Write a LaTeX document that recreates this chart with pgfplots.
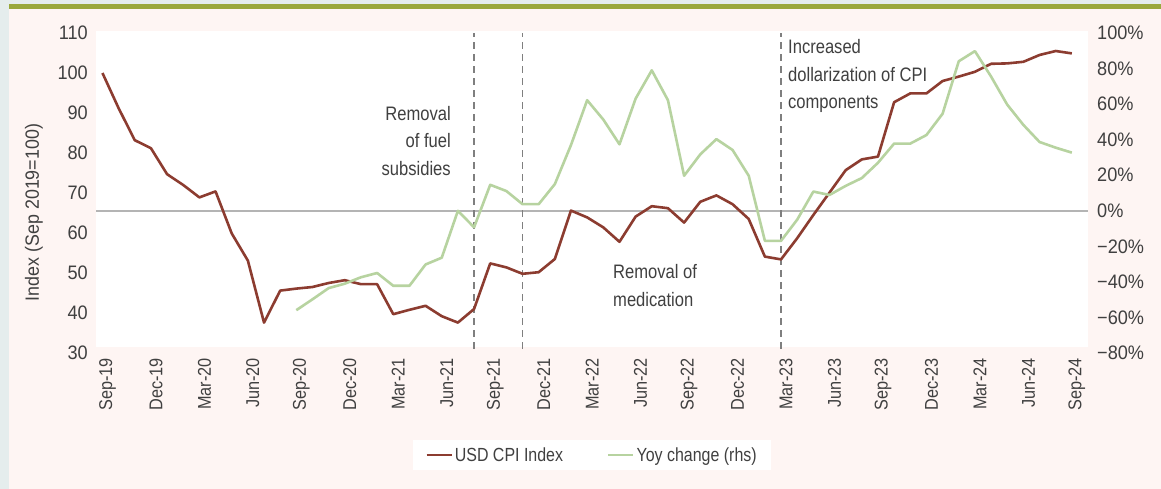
\documentclass[border=0pt]{standalone}
\usepackage{pgfplots}
\pgfplotsset{compat=1.18}
\usepackage{fontspec}
\setmainfont{Liberation Sans}
\newfontfamily\annfont[FakeStretch=0.85]{Liberation Sans}
\newfontfamily\tickfont[FakeStretch=0.93]{Liberation Sans}
\newfontfamily\xfont[FakeStretch=0.88]{Liberation Sans}
\newfontfamily\legfont[FakeStretch=0.84]{Liberation Sans}
\definecolor{txt}{HTML}{404040}
\definecolor{cpi}{HTML}{8C3C30}
\definecolor{yoy}{HTML}{B7D3A0}
\definecolor{zeroline}{HTML}{B4B4B4}
\definecolor{dashc}{HTML}{7F7F7F}
\definecolor{panelbg}{HTML}{FEF5F3}
\definecolor{outerbg}{HTML}{E5EDED}
\definecolor{topbar}{HTML}{9AA83C}

\pgfplotstableread{
i v
0 100
1 91.2
2 83.2
3 81.2
4 74.7
5 72
6 68.9
7 70.4
8 59.9
9 53.1
10 37.6
11 45.6
12 46.1
13 46.5
14 47.5
15 48.2
16 47.2
17 47.2
18 39.7
19 40.8
20 41.8
21 39.2
22 37.6
23 41.0
24 52.4
25 51.4
26 49.8
27 50.2
28 53.5
29 65.6
30 63.9
31 61.4
32 57.8
33 64.1
34 66.7
35 66.2
36 62.6
37 67.8
38 69.4
39 67.2
40 63.5
41 54.1
42 53.4
43 58.7
44 64.5
45 70.1
46 75.7
47 78.4
48 79.1
49 92.7
50 94.9
51 94.9
52 98.0
53 99.1
54 100.3
55 102.3
56 102.4
57 102.8
58 104.5
59 105.5
60 104.9
}\cpitable

\pgfplotstableread{
i v
12 -55.9
13 -49.8
14 -43.5
15 -41
16 -37.4
17 -35
18 -42.2
19 -42.2
20 -30.2
21 -26.4
22 0
23 -9.3
24 14.6
25 11.1
26 3.7
27 3.7
28 15
29 37
30 62.2
31 51.3
32 37.4
33 63.1
34 79
35 62.2
36 19.7
37 31.7
38 40.3
39 34.2
40 19.7
41 -16.9
42 -16.9
43 -5
44 10.8
45 8.9
46 14
47 18.4
48 27
49 37.8
50 37.8
51 42.6
52 54.6
53 84.1
54 89.8
55 75.5
56 59.7
57 48.3
58 38.7
59 35.5
60 32.7
}\yoytable

\begin{document}
\begin{tikzpicture}
\useasboundingbox (0,0) rectangle (1161bp,489bp);
\fill[outerbg] (0,0) rectangle (1161bp,489bp);
\fill[panelbg] (9bp,0) rectangle (1161bp,479.5bp);
\fill[topbar] (9bp,479.5bp) rectangle (1161bp,485bp);
\fill[white] (96bp,142bp) rectangle (1088bp,458bp);

\node[rotate=90, font=\tickfont\fontsize{19.2bp}{22bp}\selectfont, text=txt] at (34bp,276.5bp) {Index (Sep 2019=100)};

\begin{axis}[
  at={(96bp,136bp)}, anchor=south west, scale only axis,
  width=992bp, height=320bp,
  xmin=-0.4, xmax=61, ymin=30, ymax=110,
  axis x line*=bottom, axis y line*=left,
  axis line style={draw=none},
  major tick length=0pt, tick style={draw=none},
  xtick={0,3,...,60},
  xticklabels={Sep-19,Dec-19,Mar-20,Jun-20,Sep-20,Dec-20,Mar-21,Jun-21,Sep-21,Dec-21,Mar-22,Jun-22,Sep-22,Dec-22,Mar-23,Jun-23,Sep-23,Dec-23,Mar-24,Jun-24,Sep-24},
  xticklabel style={xshift=5bp, rotate=90, anchor=east, inner sep=0pt, text=txt, font=\xfont\fontsize{18.5bp}{20bp}\selectfont},
  xticklabel shift=5bp,
  ytick={30,40,...,110},
  yticklabels={30,40,50,60,70,80,90,100,110},
  yticklabel style={anchor=east, inner sep=0pt, text=txt, font=\tickfont\fontsize{19.5bp}{22bp}\selectfont},
  yticklabel shift=8bp,
]
\addplot[zeroline, line width=1.5bp, forget plot] coordinates {(-0.4,65.5556) (61,65.5556)};
\addplot[dashc, line width=1.2bp, dash pattern=on 7bp off 5bp, forget plot] coordinates {(23,31) (23,110)};
\addplot[dashc, line width=1.2bp, dash pattern=on 7bp off 5bp, forget plot] coordinates {(26,31) (26,110)};
\addplot[dashc, line width=1.2bp, dash pattern=on 7bp off 5bp, forget plot] coordinates {(42,31) (42,110)};
\addplot[cpi, line width=2.6bp, line join=round] table[x=i, y=v] {\cpitable};

\node[anchor=east, align=right, inner sep=0pt, text=txt, font=\annfont\fontsize{19.5bp}{27.5bp}\selectfont] at (axis cs:21.57,83) {Removal\\of fuel\\subsidies};
\node[anchor=west, align=left, inner sep=0pt, text=txt, font=\annfont\fontsize{19.5bp}{27.5bp}\selectfont] at (axis cs:31.6,46.9) {Removal of\\medication};
\node[anchor=west, align=left, inner sep=0pt, text=txt, font=\annfont\fontsize{19.5bp}{27.5bp}\selectfont] at (axis cs:42.43,99.25) {Increased\\dollarization of CPI\\components};
\end{axis}

\begin{axis}[
  at={(96bp,136bp)}, anchor=south west, scale only axis,
  width=992bp, height=320bp,
  xmin=-0.4, xmax=61, ymin=-80, ymax=100,
  axis x line=none, axis y line*=right,
  axis line style={draw=none},
  major tick length=0pt, tick style={draw=none},
  xtick=\empty,
  ytick={-80,-60,...,100},
  yticklabels={−80\%,−60\%,−40\%,−20\%,0\%,20\%,40\%,60\%,80\%,100\%},
  yticklabel style={anchor=west, inner sep=0pt, text=txt, font=\tickfont\fontsize{19.5bp}{22bp}\selectfont},
  yticklabel shift=9bp,
  legend style={at={(0.5,-0.319)}, anchor=center, draw=none, fill=white,
    legend columns=2, text=txt, font=\legfont\fontsize{19bp}{22bp}\selectfont,
    inner xsep=12bp, inner ysep=5bp,
    /tikz/every even column/.append style={column sep=42bp}},
  legend image code/.code={\draw[#1] (0bp,0bp) -- (25bp,0bp);},
]
\addlegendimage{cpi, line width=2.6bp}
\addlegendentry{USD CPI Index}
\addplot[yoy, line width=2.6bp, line join=round] table[x=i, y=v] {\yoytable};
\addlegendentry{Yoy change (rhs)}
\end{axis}
\end{tikzpicture}
\end{document}
